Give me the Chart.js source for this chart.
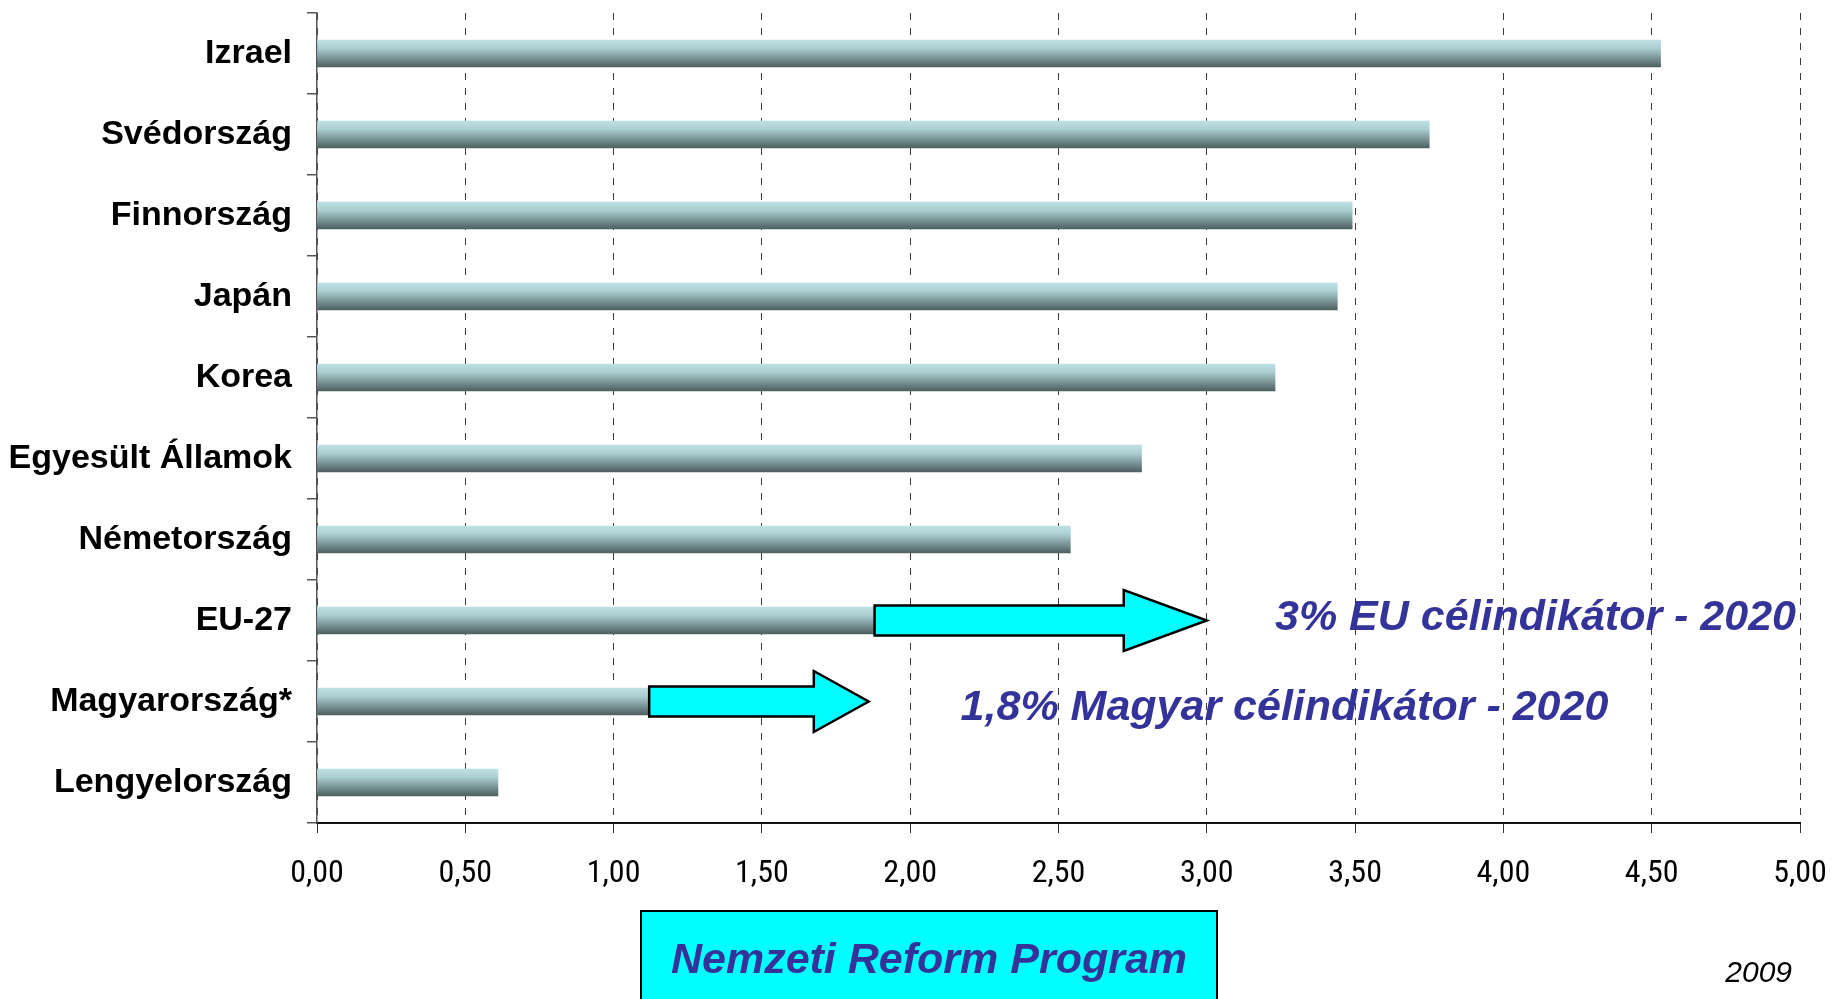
<!DOCTYPE html>
<html>
<head>
<meta charset="utf-8">
<script src="https://cdn.jsdelivr.net/npm/chart.js@4.4.1/dist/chart.umd.min.js"></script>
<style>
  html, body { margin: 0; padding: 0; background: #fff; }
  #wrap { width: 1832px; height: 999px; position: relative; }
</style>
</head>
<body>
<div id="wrap"><canvas id="rdChart"></canvas></div>
<script>
// K+F ráfordítás a GDP %-ában, 2009
const countries = ['Izrael', 'Svédország', 'Finnország', 'Japán', 'Korea', 'Egyesült Államok', 'Németország', 'EU-27', 'Magyarország*', 'Lengyelország'];
const rdValues = [4.53, 3.75, 3.49, 3.44, 3.23, 2.78, 2.54, 2.01, 1.15, 0.61];
const xMin = 0;
const xMax = 5;
const xStep = 0.5;

// target arrows (from current level to 2020 target)
const arrowRows = ['EU-27', 'Magyarország*'];
const arrowFrom = [1.88, 1.12];
const arrowTo = [3.00, 1.86];
const targetLabels = ['3% EU célindikátor - 2020', '1,8% Magyar célindikátor - 2020'];
const targetLabelAt = [3.23, 2.17];
const boxLabel = 'Nemzeti Reform Program';
const yearLabel = '2009';

const TEXT_BLUE = '#333399';
const CYAN = '#00ffff';
const SANS = '"Liberation Sans", Arial, sans-serif';
const NARROW = '"Liberation Sans Narrow", "Arial Narrow", "Roboto Condensed", sans-serif';

function barGradient(context) {
  const chart = context.chart;
  const y = chart.scales.y;
  if (!y || context.dataIndex === undefined) return '#8aa9ab';
  const cy = y.getPixelForValue(context.dataIndex);
  if (!isFinite(cy)) return '#8aa9ab';
  const g = chart.ctx.createLinearGradient(0, cy - 13.5, 0, cy + 13.5);
  g.addColorStop(0, '#bde0e3');
  g.addColorStop(0.3, '#abcfd2');
  g.addColorStop(0.65, '#7c9799');
  g.addColorStop(1, '#4d5f61');
  return g;
}

const overlay = {
  id: 'overlay',
  afterDatasetsDraw(chart) {
    const { ctx, scales: { x, y } } = chart;
    const labelDy = [9, 18];
    ctx.save();
    arrowRows.forEach((row, i) => {
      const cy = y.getPixelForValue(countries.indexOf(row));
      const x0 = x.getPixelForValue(arrowFrom[i]);
      const x1 = x.getPixelForValue(arrowTo[i]);
      const head = (x1 - x0) * 0.25;
      ctx.beginPath();
      ctx.moveTo(x0, cy - 15);
      ctx.lineTo(x1 - head, cy - 15);
      ctx.lineTo(x1 - head, cy - 30.5);
      ctx.lineTo(x1, cy);
      ctx.lineTo(x1 - head, cy + 30.5);
      ctx.lineTo(x1 - head, cy + 15);
      ctx.lineTo(x0, cy + 15);
      ctx.closePath();
      ctx.fillStyle = CYAN;
      ctx.fill();
      ctx.lineWidth = 2.5;
      ctx.lineJoin = 'miter';
      ctx.strokeStyle = '#000';
      ctx.stroke();

      ctx.font = 'italic bold 43px ' + SANS;
      ctx.fillStyle = TEXT_BLUE;
      ctx.textAlign = 'left';
      ctx.textBaseline = 'alphabetic';
      ctx.fillText(targetLabels[i], x.getPixelForValue(targetLabelAt[i]), cy + labelDy[i]);
    });

    // program box under the axis
    ctx.fillStyle = CYAN;
    ctx.fillRect(641, 911, 576, 100);
    ctx.lineWidth = 2;
    ctx.strokeStyle = '#000';
    ctx.strokeRect(641, 911, 576, 100);
    ctx.font = 'italic bold 43px ' + SANS;
    ctx.fillStyle = TEXT_BLUE;
    ctx.textAlign = 'center';
    ctx.fillText(boxLabel, 929, 973);

    ctx.font = 'italic 30px ' + SANS;
    ctx.fillStyle = '#000';
    ctx.textAlign = 'right';
    ctx.fillText(yearLabel, 1792, 982);
    ctx.restore();
  }
};

const chart = new Chart(document.getElementById('rdChart'), {
  type: 'bar',
  data: {
    labels: countries,
    datasets: [{
      data: rdValues,
      backgroundColor: barGradient,
      borderWidth: 0,
      barThickness: 27
    }]
  },
  options: {
    indexAxis: 'y',
    responsive: true,
    maintainAspectRatio: false,
    animation: false,
    layout: { padding: { top: 13, right: 32, bottom: 0, left: 0 } },
    plugins: {
      legend: { display: false },
      tooltip: { enabled: false }
    },
    scales: {
      x: {
        min: xMin,
        max: xMax,
        afterFit: (scale) => {
          scale.height = 176;
          scale.paddingLeft = 0;
          scale.paddingRight = 0;
        },
        ticks: {
          stepSize: xStep,
          color: '#000',
          padding: 22,
          maxRotation: 0,
          font: { family: NARROW, size: 32 },
          callback: (v) => Number(v).toFixed(2).replace('.', ',')
        },
        grid: {
          color: '#3a3a3a',
          lineWidth: 1,
          tickLength: 10,
          tickColor: '#333',
          tickBorderDash: []
        },
        border: { display: true, color: '#111', width: 2, dash: [7, 8] }
      },
      y: {
        afterFit: (scale) => {
          scale.width = 317;
          scale.paddingTop = 0;
          scale.paddingBottom = 0;
        },
        ticks: {
          color: '#000',
          padding: 15,
          font: { family: SANS, size: 34, weight: 'bold' }
        },
        grid: {
          offset: true,
          drawOnChartArea: false,
          tickLength: 10,
          color: '#555',
          lineWidth: 1.5
        },
        border: { display: true, color: '#555', width: 1.5 }
      }
    }
  },
  plugins: [overlay]
});
</script>
</body>
</html>
